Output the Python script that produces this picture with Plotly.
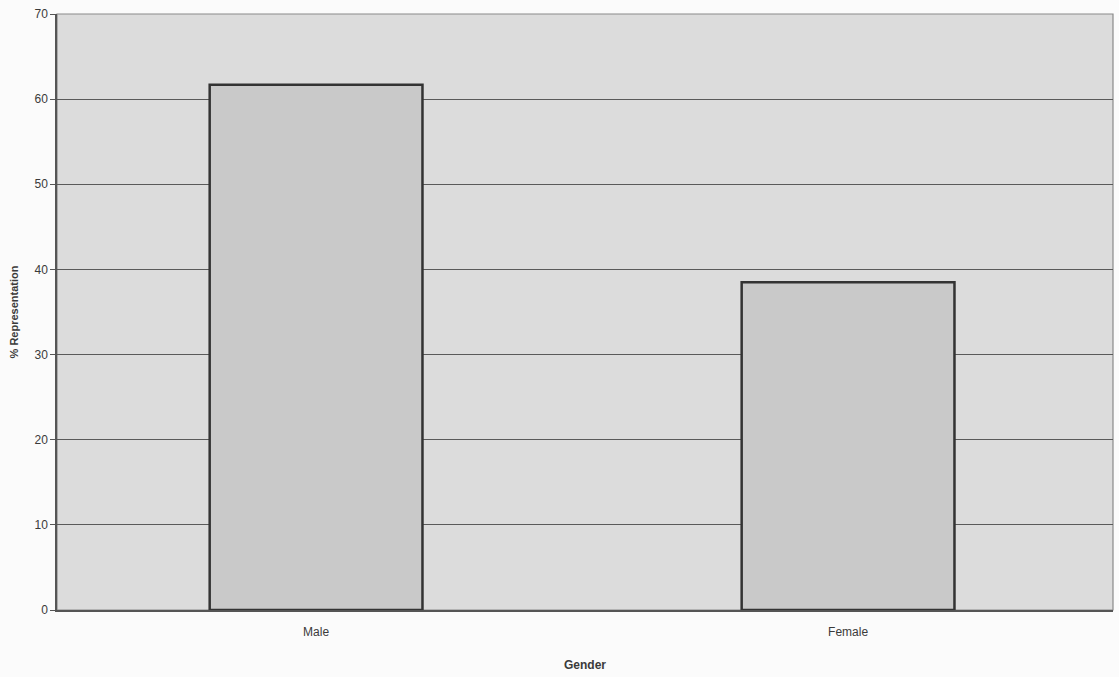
import plotly.graph_objects as go

categories = ["Male", "Female"]
percent = [61.7, 38.5]
y_ticks = [0, 10, 20, 30, 40, 50, 60, 70]

fig = go.Figure()
fig.add_trace(go.Bar(
    x=categories,
    y=percent,
    width=0.4,
    marker=dict(color="#c9c9c9", line=dict(color="#333333", width=2.5)),
))

# light frame around the plotting area (top and right edges)
fig.add_shape(type="rect", xref="paper", yref="paper", x0=0, x1=1, y0=0, y1=1,
              line=dict(color="#8a8a8a", width=1.2), layer="below")

fig.update_layout(
    width=1119,
    height=677,
    margin=dict(l=57, r=6, t=14, b=67),
    paper_bgcolor="#fbfbfb",
    plot_bgcolor="#dcdcdc",
    showlegend=False,
    font=dict(family="Liberation Sans, Arial, sans-serif", size=12, color="#3a3a3a"),
    xaxis=dict(
        title=dict(text="<b>Gender</b>", font=dict(size=12, color="#3a3a3a"), standoff=22),
        showline=True, linecolor="#555555", linewidth=1.5,
        ticks="", showgrid=False, mirror=False,
        tickfont=dict(size=12),
        ticklabelstandoff=10,
        range=[-0.487, 1.498],
    ),
    yaxis=dict(
        title=dict(text="<b>% Representation</b>", font=dict(size=11, color="#3a3a3a"), standoff=14),
        range=[0, 70],
        tickvals=y_ticks,
        showline=True, linecolor="#555555", linewidth=1.5,
        ticks="outside", ticklen=5, tickcolor="#555555",
        showgrid=True, gridcolor="#5a5a5a", gridwidth=1,
        zeroline=False,
        tickfont=dict(size=12),
    ),
)

fig.write_html("out.html")
